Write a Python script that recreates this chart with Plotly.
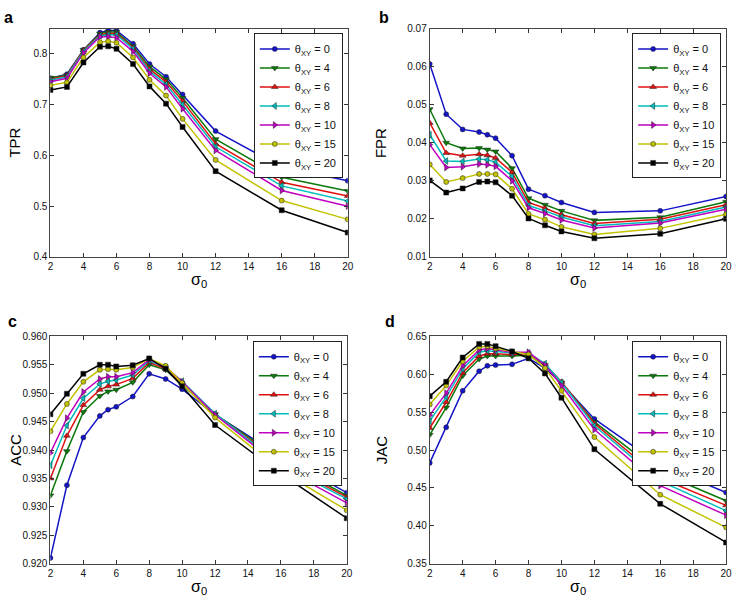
import plotly.graph_objects as go

# ---------------- data ----------------
sigma0 = [2, 3, 4, 5, 5.5, 6, 7, 8, 9, 10, 12, 16, 20]
theta_xy = [0, 4, 6, 8, 10, 15, 20]
x_ticks = [2, 4, 6, 8, 10, 12, 14, 16, 18, 20]

# TPR (panel a)
tpr_0 = [0.752, 0.760, 0.808, 0.842, 0.846, 0.846, 0.820, 0.780, 0.755, 0.720, 0.648, 0.577, 0.550]
tpr_4 = [0.753, 0.758, 0.808, 0.840, 0.843, 0.843, 0.815, 0.775, 0.750, 0.713, 0.632, 0.557, 0.530]
tpr_6 = [0.750, 0.757, 0.807, 0.838, 0.840, 0.840, 0.812, 0.770, 0.745, 0.707, 0.623, 0.547, 0.520]
tpr_8 = [0.748, 0.755, 0.805, 0.836, 0.838, 0.838, 0.810, 0.766, 0.740, 0.700, 0.617, 0.540, 0.510]
tpr_10 = [0.745, 0.752, 0.802, 0.834, 0.834, 0.832, 0.805, 0.762, 0.735, 0.692, 0.610, 0.531, 0.500]
tpr_15 = [0.738, 0.744, 0.793, 0.823, 0.825, 0.822, 0.793, 0.749, 0.718, 0.672, 0.591, 0.511, 0.474]
tpr_20 = [0.729, 0.735, 0.783, 0.814, 0.815, 0.810, 0.780, 0.736, 0.702, 0.656, 0.569, 0.492, 0.448]

# FPR (panel b)
fpr_0 = [0.0607, 0.0475, 0.0435, 0.0428, 0.0421, 0.0412, 0.0366, 0.0278, 0.0261, 0.0243, 0.0217, 0.0221, 0.0259]
fpr_4 = [0.0488, 0.0400, 0.0385, 0.0386, 0.0382, 0.0377, 0.0333, 0.0254, 0.0237, 0.0221, 0.0196, 0.0204, 0.0245]
fpr_6 = [0.0452, 0.0373, 0.0366, 0.0370, 0.0367, 0.0360, 0.0322, 0.0243, 0.0228, 0.0211, 0.0188, 0.0199, 0.0237]
fpr_8 = [0.0421, 0.0352, 0.0351, 0.0357, 0.0355, 0.0349, 0.0311, 0.0235, 0.0221, 0.0205, 0.0182, 0.0193, 0.0231]
fpr_10 = [0.0395, 0.0335, 0.0337, 0.0344, 0.0342, 0.0338, 0.0300, 0.0229, 0.0214, 0.0197, 0.0176, 0.0189, 0.0225]
fpr_15 = [0.0343, 0.0297, 0.0307, 0.0318, 0.0318, 0.0317, 0.0279, 0.0213, 0.0198, 0.0179, 0.0159, 0.0175, 0.0212]
fpr_20 = [0.0301, 0.0269, 0.0280, 0.0297, 0.0298, 0.0296, 0.0261, 0.0201, 0.0183, 0.0167, 0.0149, 0.0161, 0.0200]

# ACC (panel c)
acc_0 = [0.9210, 0.9338, 0.9422, 0.9460, 0.9471, 0.9476, 0.9494, 0.9534, 0.9525, 0.9507, 0.9462, 0.9389, 0.9325]
acc_4 = [0.9320, 0.9398, 0.9467, 0.9495, 0.9503, 0.9506, 0.9519, 0.9550, 0.9541, 0.9515, 0.9463, 0.9383, 0.9320]
acc_6 = [0.9350, 0.9425, 0.9479, 0.9506, 0.9512, 0.9515, 0.9526, 0.9554, 0.9543, 0.9518, 0.9463, 0.9378, 0.9317]
acc_8 = [0.9373, 0.9443, 0.9491, 0.9516, 0.9521, 0.9523, 0.9532, 0.9557, 0.9545, 0.9521, 0.9464, 0.9374, 0.9314]
acc_10 = [0.9395, 0.9456, 0.9502, 0.9525, 0.9529, 0.9529, 0.9536, 0.9559, 0.9546, 0.9520, 0.9462, 0.9370, 0.9307]
acc_15 = [0.9433, 0.9481, 0.9520, 0.9541, 0.9542, 0.9541, 0.9545, 0.9561, 0.9548, 0.9518, 0.9457, 0.9363, 0.9294]
acc_20 = [0.9463, 0.9499, 0.9534, 0.9550, 0.9550, 0.9547, 0.9549, 0.9561, 0.9543, 0.9512, 0.9444, 0.9358, 0.9280]

# JAC (panel d)
jac_0 = [0.483, 0.530, 0.578, 0.604, 0.611, 0.612, 0.613, 0.621, 0.608, 0.588, 0.541, 0.480, 0.444]
jac_4 = [0.520, 0.556, 0.598, 0.620, 0.624, 0.624, 0.624, 0.625, 0.612, 0.589, 0.537, 0.470, 0.433]
jac_6 = [0.529, 0.563, 0.602, 0.624, 0.627, 0.627, 0.626, 0.627, 0.613, 0.590, 0.535, 0.463, 0.427]
jac_8 = [0.538, 0.570, 0.607, 0.629, 0.631, 0.630, 0.628, 0.628, 0.614, 0.589, 0.532, 0.459, 0.420]
jac_10 = [0.546, 0.575, 0.611, 0.632, 0.634, 0.632, 0.629, 0.629, 0.612, 0.585, 0.527, 0.453, 0.414]
jac_15 = [0.560, 0.585, 0.617, 0.636, 0.637, 0.634, 0.630, 0.626, 0.608, 0.578, 0.517, 0.441, 0.398]
jac_20 = [0.571, 0.590, 0.622, 0.640, 0.640, 0.637, 0.630, 0.621, 0.601, 0.569, 0.501, 0.429, 0.378]

panel_letters = ["a", "b", "c", "d"]
y_titles = ["TPR", "FPR", "ACC", "JAC"]
x_title = "σ<sub>0</sub>"

# ---------------- styling ----------------
W, H = 739, 604
colors = ["#1414c8", "#0a7a0a", "#e01010", "#00bcbc", "#c000c0", "#c2c200", "#000000"]
symbols = ["circle", "triangle-down", "triangle-up", "triangle-left",
           "triangle-right", "circle", "square"]
msizes = [5, 6, 6, 6, 6, 5, 5]
FONT = "Liberation Sans, Arial, sans-serif"

panels = [
    dict(series=[tpr_0, tpr_4, tpr_6, tpr_8, tpr_10, tpr_15, tpr_20],
         yr=[0.4, 0.85], dt=0.1, fmt=".1f", px=(48, 349), py=(23, 256)),
    dict(series=[fpr_0, fpr_4, fpr_6, fpr_8, fpr_10, fpr_15, fpr_20],
         yr=[0.01, 0.07], dt=0.01, fmt=".2f", px=(432, 732), py=(23, 256)),
    dict(series=[acc_0, acc_4, acc_6, acc_8, acc_10, acc_15, acc_20],
         yr=[0.92, 0.96], dt=0.005, fmt=".3f", px=(48, 348), py=(337, 569)),
    dict(series=[jac_0, jac_4, jac_6, jac_8, jac_10, jac_15, jac_20],
         yr=[0.35, 0.65], dt=0.05, fmt=".2f", px=(432, 732), py=(337, 569)),
]

fig = go.Figure()
layout = {}
annotations = []
label_pos = [(6, 12), (386, 12), (10, 322), (392, 322)]
ytitle_x = [12, 382, 12, 383]

for p, pan in enumerate(panels):
    suf = "" if p == 0 else str(p + 1)
    leg = "legend" if p == 0 else "legend" + str(p + 1)
    for i, t in enumerate(theta_xy):
        fig.add_trace(go.Scatter(
            x=sigma0, y=pan["series"][i],
            xaxis="x" + suf, yaxis="y" + suf, legend=leg,
            mode="lines+markers",
            name=f"θ<sub>XY</sub> = {t}",
            line=dict(color=colors[i], width=1.5),
            marker=dict(symbol=symbols[i], size=msizes[i], color=colors[i],
                        line=dict(color="#202020", width=0.5)),
        ))
    x0, x1 = pan["px"]
    y0, y1 = pan["py"]
    xd = [x0 / W, x1 / W]
    yd = [1 - y1 / H, 1 - y0 / H]
    common = dict(ticks="inside", ticklen=4, tickwidth=1, tickcolor="#333",
                  showline=True, linecolor="#444", linewidth=1, mirror="ticks",
                  showgrid=False, zeroline=False, ticklabeloverflow="allow",
                  tickfont=dict(family=FONT, size=10, color="#111"))
    layout["xaxis" + suf] = dict(domain=xd, range=[2, 20], tickvals=x_ticks,
                                 anchor="y" + suf, **common)
    layout["yaxis" + suf] = dict(domain=yd, range=pan["yr"], dtick=pan["dt"],
                                 tick0=pan["yr"][0], tickformat=pan["fmt"],
                                 anchor="x" + suf, **common)
    layout[leg] = dict(
        x=(x1 - 5) / W, y=1 - (y0 + 5) / H, xanchor="right", yanchor="top",
        bgcolor="white", bordercolor="#222", borderwidth=1,
        font=dict(family=FONT, size=11, color="#111"),
        tracegroupgap=0, itemwidth=30,
    )
    lx, ly = label_pos[p]
    annotations.append(dict(text=f"<b>{panel_letters[p]}</b>", x=lx / W, y=1 - ly / H,
                            xref="paper", yref="paper", showarrow=False,
                            xanchor="center", yanchor="middle",
                            font=dict(family=FONT, size=16, color="black")))
    annotations.append(dict(text=y_titles[p], x=ytitle_x[p] / W,
                            y=1 - ((y0 + y1) / 2) / H, xref="paper", yref="paper",
                            textangle=-90, showarrow=False,
                            xanchor="center", yanchor="middle",
                            font=dict(family=FONT, size=15, color="black")))
    annotations.append(dict(text=x_title, x=((x0 + x1) / 2) / W,
                            y=1 - (y1 + 24) / H, xref="paper", yref="paper",
                            showarrow=False, xanchor="center", yanchor="middle",
                            font=dict(family=FONT, size=16, color="black")))

fig.update_layout(
    width=W, height=H, margin=dict(l=0, r=0, t=0, b=0),
    paper_bgcolor="white", plot_bgcolor="white",
    showlegend=True, annotations=annotations, **layout,
)

fig.write_html("out.html", config={"displayModeBar": False},
               post_script="document.body.style.margin='0';document.body.style.overflow='hidden';")
